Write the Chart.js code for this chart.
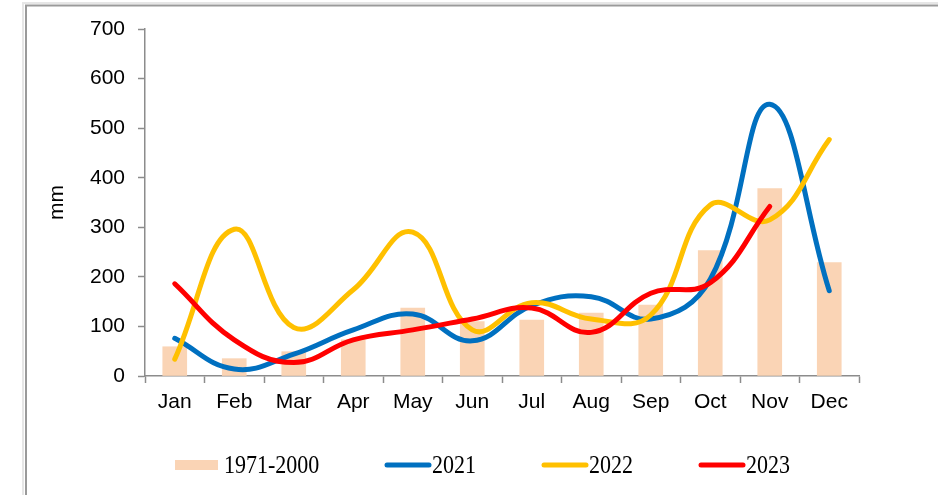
<!DOCTYPE html>
<html>
<head>
<meta charset="utf-8">
<title>Monthly rainfall</title>
<script src="https://cdn.jsdelivr.net/npm/chart.js@4/dist/chart.umd.min.js"></script>
<style>
  html, body { margin: 0; padding: 0; background: #ffffff; }
  #wrap { width: 938px; height: 495px; position: relative; }
</style>
</head>
<body>
<div id="wrap"><canvas id="rain"></canvas></div>
<script>
// Monthly rainfall (mm): 1971-2000 normal and the years 2021-2023
const months = ['Jan', 'Feb', 'Mar', 'Apr', 'May', 'Jun', 'Jul', 'Aug', 'Sep', 'Oct', 'Nov', 'Dec'];
const normal19712000 = [59, 35, 49, 73, 137, 110, 113, 127, 143, 253, 378, 229];
const rain2021 = [76, 14, 44, 93, 125, 71, 142, 160, 115, 195, 548, 172];
const rain2022 = [34, 296, 98, 174, 290, 93, 148, 115, 123, 345, 315, 477];
const rain2023 = [186, 73, 27, 73, 93, 115, 137, 88, 167, 188, 342, null];
const yTickValues = [0, 100, 200, 300, 400, 500, 600, 700];

const AXIS_GREY = '#8c8c8c';
const SANS = '"Liberation Sans", Arial, sans-serif';
const SERIF = '"Liberation Serif", "Times New Roman", serif';

// Outer frame and the legend row under the plot
const frameAndLegend = {
  id: 'frameAndLegend',
  beforeDraw(chart) {
    const ctx = chart.ctx;
    ctx.save();
    ctx.strokeStyle = '#e6e6e6';
    ctx.lineWidth = 2;
    ctx.beginPath();
    ctx.moveTo(23, 600); ctx.lineTo(23, 3); ctx.lineTo(1000, 3);
    ctx.stroke();
    ctx.strokeStyle = '#9a9a9a';
    ctx.lineWidth = 2;
    ctx.beginPath();
    ctx.moveTo(26, 600); ctx.lineTo(26, 5.5); ctx.lineTo(1000, 5.5);
    ctx.stroke();
    ctx.restore();
  },
  afterDraw(chart) {
    const ctx = chart.ctx;
    const starts = [175, 384, 541, 698];
    const lineY = 465;
    ctx.save();
    chart.data.datasets.forEach((ds, i) => {
      const x = starts[i];
      let textX;
      if (ds.type === 'bar') {
        ctx.fillStyle = ds.backgroundColor;
        ctx.fillRect(x, 460, 43, 10);
        textX = x + 49;
      } else {
        ctx.strokeStyle = ds.borderColor;
        ctx.lineWidth = 5;
        ctx.lineCap = 'round';
        ctx.beginPath();
        ctx.moveTo(x + 3, lineY);
        ctx.lineTo(x + 45, lineY);
        ctx.stroke();
        textX = x + 48;
      }
      ctx.save();
      ctx.translate(textX, 473.3);
      ctx.scale(1, 1.15);
      ctx.fillStyle = '#000000';
      ctx.font = '22px ' + SERIF;
      ctx.textBaseline = 'alphabetic';
      ctx.textAlign = 'left';
      ctx.fillText(ds.label, 0, 0);
      ctx.restore();
    });
    ctx.restore();
  }
};

const lineStyle = (color) => ({
  type: 'line',
  borderColor: color,
  backgroundColor: color,
  borderWidth: 5,
  tension: 0.42,
  pointRadius: 0,
  pointHoverRadius: 0,
  fill: false,
  spanGaps: false,
  borderCapStyle: 'round',
  borderJoinStyle: 'round'
});

new Chart(document.getElementById('rain'), {
  data: {
    labels: months,
    datasets: [
      {
        type: 'bar',
        label: '1971-2000',
        data: normal19712000,
        backgroundColor: '#FAD4B5',
        borderWidth: 0,
        barThickness: 24,
        order: 4
      },
      Object.assign(lineStyle('#0070C0'), { label: '2021', data: rain2021, order: 3 }),
      Object.assign(lineStyle('#FFC000'), { label: '2022', data: rain2022, order: 2 }),
      Object.assign(lineStyle('#FF0000'), { label: '2023', data: rain2023, order: 1 })
    ]
  },
  options: {
    responsive: true,
    maintainAspectRatio: false,
    animation: false,
    events: [],
    layout: { padding: { left: 35, right: 79, top: 29, bottom: 79 } },
    plugins: {
      legend: { display: false },
      tooltip: { enabled: false },
      title: { display: false }
    },
    scales: {
      x: {
        type: 'category',
        offset: true,
        grid: {
          offset: true,
          drawOnChartArea: false,
          drawTicks: true,
          tickLength: 7,
          tickColor: AXIS_GREY,
          tickWidth: 1.5
        },
        border: { display: true, color: AXIS_GREY, width: 1.5 },
        ticks: {
          color: '#000000',
          font: { family: SANS, size: 21 },
          padding: 7,
          maxRotation: 0,
          autoSkip: false
        },
        afterFit(scale) { scale.height = 40; }
      },
      y: {
        min: 0,
        max: 700,
        afterBuildTicks(scale) {
          scale.ticks = yTickValues.map(v => ({ value: v }));
        },
        grid: {
          drawOnChartArea: false,
          drawTicks: true,
          tickLength: 7,
          tickColor: AXIS_GREY,
          tickWidth: 1.5
        },
        border: { display: true, color: AXIS_GREY, width: 1.5 },
        ticks: {
          color: '#000000',
          font: { family: SANS, size: 21 },
          padding: 13
        },
        title: {
          display: true,
          text: 'mm',
          color: '#000000',
          font: { family: SANS, size: 21 },
          padding: { top: 10, bottom: 0 }
        },
        afterFit(scale) { scale.width = 110; }
      }
    }
  },
  plugins: [frameAndLegend]
});
</script>
</body>
</html>
